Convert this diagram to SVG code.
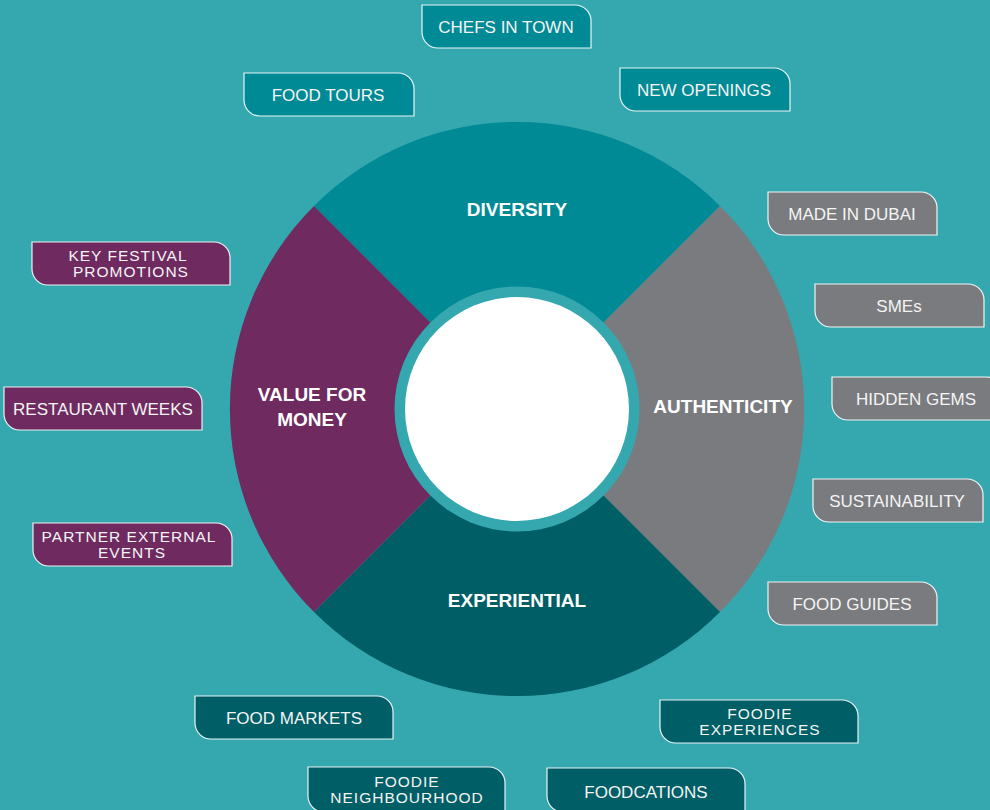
<svg xmlns="http://www.w3.org/2000/svg" width="990" height="810" viewBox="0 0 990 810">
<style>
.bg{fill:#35a7ae}
.teal{fill:#008a95}
.grey{fill:#7a7b7f}
.dark{fill:#005e66}
.purple{fill:#6f2a60}
.tag{stroke:#ffffff;stroke-width:1.2;stroke-opacity:0.9}
.lbl{font-family:"Liberation Sans",Arial,sans-serif;font-size:17px;fill:#f4f4f4;text-anchor:middle}
.lbl2{font-family:"Liberation Sans",Arial,sans-serif;font-size:15.5px;letter-spacing:1px;fill:#f4f4f4;text-anchor:middle}
.big{font-family:"Liberation Sans",Arial,sans-serif;font-size:19px;font-weight:bold;fill:#ffffff;text-anchor:middle}
</style>
<rect class="bg" x="0" y="0" width="990" height="810"/>
<g id="wheel">
<path id="diversity" class="teal" d="M517,409 L314,206 A287,287 0 0 1 720,206 Z"/>
<path id="authenticity" class="grey" d="M517,409 L720,206 A287,287 0 0 1 720,612 Z"/>
<path id="experiential" class="dark" d="M517,409 L720,612 A287,287 0 0 1 314,612 Z"/>
<path id="value" class="purple" d="M517,409 L314,612 A287,287 0 0 1 314,206 Z"/>
<circle class="bg" cx="517" cy="409" r="122.5"/>
<circle cx="517" cy="409" r="112" fill="#ffffff"/>
<text class="big" x="517" y="216">DIVERSITY</text>
<text class="big" x="723" y="413">AUTHENTICITY</text>
<text class="big" x="517" y="607">EXPERIENTIAL</text>
<text class="big" x="312" y="401">VALUE FOR</text>
<text class="big" x="312" y="426">MONEY</text>
</g>
<g id="connectors"></g>
<g id="n-chefs"><path class="teal tag" d="M422,5 H575 A16,16 0 0 1 591,21 V48 H438 A16,16 0 0 1 422,32 Z"/><text class="lbl" x="506" y="33">CHEFS IN TOWN</text></g>
<g id="n-foodtours"><path class="teal tag" d="M244,73 H398 A16,16 0 0 1 414,89 V116 H260 A16,16 0 0 1 244,100 Z"/><text class="lbl" x="328" y="101">FOOD TOURS</text></g>
<g id="n-newopenings"><path class="teal tag" d="M620,68 H774 A16,16 0 0 1 790,84 V111 H636 A16,16 0 0 1 620,95 Z"/><text class="lbl" x="704" y="96">NEW OPENINGS</text></g>
<g id="n-madeindubai"><path class="grey tag" d="M768,192 H921 A16,16 0 0 1 937,208 V235 H784 A16,16 0 0 1 768,219 Z"/><text class="lbl" x="852" y="220">MADE IN DUBAI</text></g>
<g id="n-smes"><path class="grey tag" d="M815,284 H968 A16,16 0 0 1 984,300 V327 H831 A16,16 0 0 1 815,311 Z"/><text class="lbl" x="899" y="312">SMEs</text></g>
<g id="n-hiddengems"><path class="grey tag" d="M832,377 H986 A16,16 0 0 1 1002,393 V420 H848 A16,16 0 0 1 832,404 Z"/><text class="lbl" x="916" y="405">HIDDEN GEMS</text></g>
<g id="n-sustainability"><path class="grey tag" d="M813,479 H967 A16,16 0 0 1 983,495 V522 H829 A16,16 0 0 1 813,506 Z"/><text class="lbl" x="897" y="507">SUSTAINABILITY</text></g>
<g id="n-foodguides"><path class="grey tag" d="M768,582 H921 A16,16 0 0 1 937,598 V625 H784 A16,16 0 0 1 768,609 Z"/><text class="lbl" x="852" y="610">FOOD GUIDES</text></g>
<g id="n-keyfestival"><path class="purple tag" d="M32,242 H214 A16,16 0 0 1 230,258 V285 H48 A16,16 0 0 1 32,269 Z"/><text class="lbl2" x="128" y="261">KEY FESTIVAL</text><text class="lbl2" x="131" y="277">PROMOTIONS</text></g>
<g id="n-restaurantweeks"><path class="purple tag" d="M4,387 H186 A16,16 0 0 1 202,403 V430 H20 A16,16 0 0 1 4,414 Z"/><text class="lbl" x="103" y="415">RESTAURANT WEEKS</text></g>
<g id="n-partner"><path class="purple tag" d="M33,523 H216 A16,16 0 0 1 232,539 V566 H49 A16,16 0 0 1 33,550 Z"/><text class="lbl2" x="129" y="542">PARTNER EXTERNAL</text><text class="lbl2" x="132" y="558">EVENTS</text></g>
<g id="n-foodmarkets"><path class="dark tag" d="M195,696 H377 A16,16 0 0 1 393,712 V739 H211 A16,16 0 0 1 195,723 Z"/><text class="lbl" x="294" y="724">FOOD MARKETS</text></g>
<g id="n-foodieexp"><path class="dark tag" d="M660,700 H842 A16,16 0 0 1 858,716 V743 H676 A16,16 0 0 1 660,727 Z"/><text class="lbl2" x="760" y="719">FOODIE</text><text class="lbl2" x="760" y="735">EXPERIENCES</text></g>
<g id="n-neighbourhood"><path class="dark tag" d="M308,767 H489 A16,16 0 0 1 505,783 V812 H324 A16,16 0 0 1 308,796 Z"/><text class="lbl2" x="407" y="787">FOODIE</text><text class="lbl2" x="407" y="803">NEIGHBOURHOOD</text></g>
<g id="n-foodcations"><path class="dark tag" d="M547,768 H729 A16,16 0 0 1 745,784 V812 H563 A16,16 0 0 1 547,796 Z"/><text class="lbl" x="646" y="798">FOODCATIONS</text></g>
</svg>
